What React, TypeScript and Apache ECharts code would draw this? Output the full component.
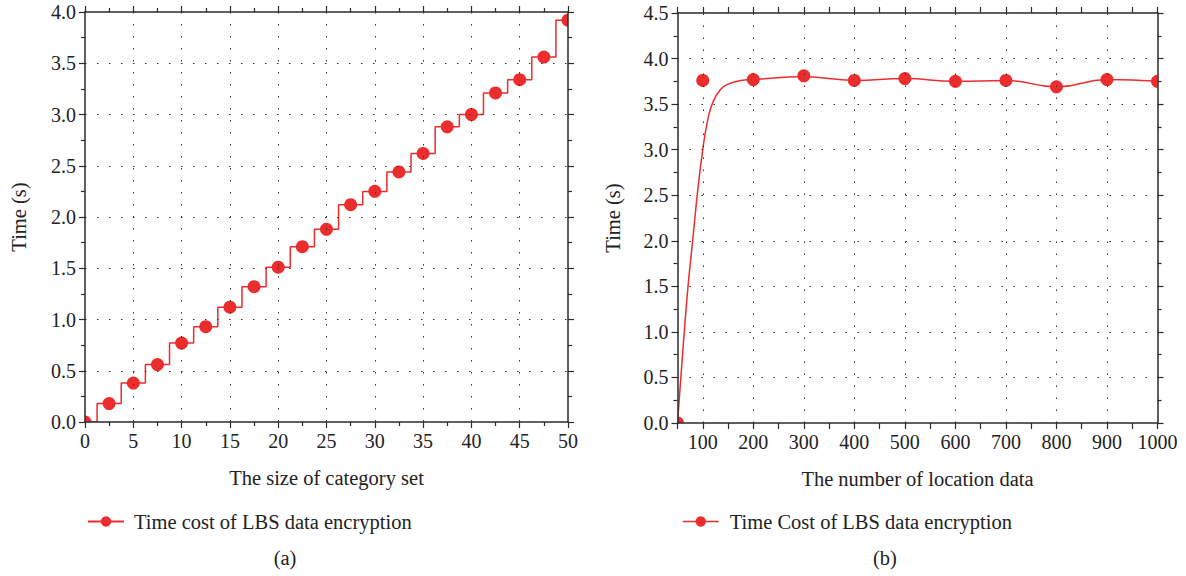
import React, { useEffect, useRef } from "react";
import * as echarts from "echarts";

// ---- Data (a) ----
const categorySizes = [0, 2.5, 5, 7.5, 10, 12.5, 15, 17.5, 20, 22.5, 25, 27.5, 30, 32.5, 35, 37.5, 40, 42.5, 45, 47.5, 50];
const encTimeA = [0, 0.18, 0.38, 0.56, 0.77, 0.93, 1.12, 1.32, 1.51, 1.71, 1.88, 2.12, 2.25, 2.44, 2.62, 2.88, 3.0, 3.21, 3.34, 3.56, 3.92];

// ---- Data (b) ----
const locationCounts = [50, 100, 200, 300, 400, 500, 600, 700, 800, 900, 1000];
const encTimeB = [0, 3.76, 3.77, 3.81, 3.76, 3.78, 3.75, 3.76, 3.69, 3.77, 3.75];
const fitX = [50, 60, 70, 80, 90, 100, 110, 120, 135, 150, 175, 200, 300, 400, 500, 600, 700, 800, 900, 1000];
const fitY = [0, 0.75, 1.45, 2.0, 2.55, 3.0, 3.33, 3.52, 3.66, 3.72, 3.76, 3.77, 3.8, 3.76, 3.78, 3.75, 3.76, 3.69, 3.77, 3.75];
const gridLinesB = [100, 200, 300, 400, 500, 600, 700, 800, 900];

const nameA = "Time cost of LBS data encryption";
const nameB = "Time Cost of LBS data encryption";

const RED = "#ec2d2d";
const AX = "#2b2b2b";
const FONT = "Liberation Serif";

const gridA = { left: 85, top: 12, width: 483, height: 410 };
const gridB = { left: 677.5, top: 13, width: 480, height: 410 };

function frameAxisCommon(extra: any) {
  return {
    z: 10,
    axisLine: { show: true, onZero: false, lineStyle: { color: AX, width: 1.5 } },
    axisTick: { show: true, inside: false, length: 6, lineStyle: { color: AX, width: 1.2 } },
    ...extra,
  };
}

const gridDots = { color: "#333", width: 1, type: [1.5, 10.5] as any };

export default function App() {
  const ref = useRef<HTMLDivElement>(null);
  useEffect(() => {
    if (!ref.current) return;
    const chart = echarts.init(ref.current, undefined, { renderer: "svg" });
    const tickStyle = { fontFamily: FONT, fontSize: 20, color: "#222" };
    const labelStyle = { fontFamily: FONT, fontSize: 20.5, color: "#222" };
    const minorTick = { show: true, splitNumber: 2, length: 4, lineStyle: { color: AX, width: 1.2 } };

    const clipRects = (g: any) => {
      const r = g.left + g.width;
      const b = g.top + g.height;
      const s = { fill: "#fff" };
      return [
        { type: "rect", z: 5, shape: { x: g.left - 12, y: g.top - 12, width: 12, height: g.height + 24 }, style: s },
        { type: "rect", z: 5, shape: { x: r, y: g.top - 12, width: 12, height: g.height + 24 }, style: s },
        { type: "rect", z: 5, shape: { x: g.left - 12, y: g.top - 12, width: g.width + 24, height: 12 }, style: s },
        { type: "rect", z: 5, shape: { x: g.left - 12, y: b, width: g.width + 24, height: 12 }, style: s },
      ];
    };

    chart.setOption({
      animation: false,
      backgroundColor: "#fff",
      textStyle: { fontFamily: FONT },
      grid: [
        { ...gridA, containLabel: false },
        { ...gridB, containLabel: false },
      ],
      xAxis: [
        frameAxisCommon({
          type: "value", gridIndex: 0, position: "bottom", min: 0, max: 50, interval: 5,
          minorTick,
          axisLabel: { ...tickStyle, margin: 9 },
          splitLine: { show: true, showMinLine: false, showMaxLine: false, lineStyle: gridDots },
          name: "The size of category set", nameLocation: "middle", nameGap: 45,
          nameTextStyle: { ...labelStyle },
        }),
        frameAxisCommon({
          type: "value", gridIndex: 0, position: "top", min: 0, max: 50, interval: 5,
          minorTick, axisLabel: { show: false }, splitLine: { show: false },
        }),
        frameAxisCommon({
          type: "value", gridIndex: 1, position: "bottom", min: 50, max: 1000, interval: 50,
          axisLabel: {
            ...tickStyle, margin: 9,
            formatter: (v: number) => (v % 100 === 0 ? String(v) : ""),
          },
          splitLine: { show: false },
          name: "The number of location data", nameLocation: "middle", nameGap: 45,
          nameTextStyle: { ...labelStyle },
        }),
        frameAxisCommon({
          type: "value", gridIndex: 1, position: "top", min: 50, max: 1000, interval: 50,
          axisLabel: { show: false }, splitLine: { show: false },
        }),
      ],
      yAxis: [
        frameAxisCommon({
          type: "value", gridIndex: 0, position: "left", min: 0, max: 4, interval: 0.5,
          minorTick,
          axisLabel: { ...tickStyle, margin: 9, formatter: (v: number) => v.toFixed(1) },
          splitLine: { show: true, showMinLine: false, showMaxLine: false, lineStyle: gridDots },
          name: "Time (s)", nameLocation: "middle", nameGap: 56,
          nameTextStyle: { ...labelStyle },
        }),
        frameAxisCommon({
          type: "value", gridIndex: 0, position: "right", min: 0, max: 4, interval: 0.5,
          minorTick, axisLabel: { show: false }, splitLine: { show: false },
        }),
        frameAxisCommon({
          type: "value", gridIndex: 1, position: "left", min: 0, max: 4.5, interval: 0.5,
          minorTick,
          axisLabel: { ...tickStyle, margin: 9, formatter: (v: number) => v.toFixed(1) },
          splitLine: { show: true, showMinLine: false, showMaxLine: false, lineStyle: gridDots },
          name: "Time (s)", nameLocation: "middle", nameGap: 54,
          nameTextStyle: { ...labelStyle },
        }),
        frameAxisCommon({
          type: "value", gridIndex: 1, position: "right", min: 0, max: 4.5, interval: 0.5,
          minorTick, axisLabel: { show: false }, splitLine: { show: false },
        }),
      ],
      legend: [
        {
          data: [nameA], left: 82, top: 506, itemWidth: 36, itemHeight: 13,
          textStyle: { ...labelStyle, padding: [0, 0, 0, 5] },
        },
        {
          data: [nameB], left: 677, top: 506, itemWidth: 36, itemHeight: 13,
          lineStyle: { opacity: 1, width: 1.5, color: RED },
          textStyle: { ...labelStyle, padding: [0, 0, 0, 6] },
        },
      ],
      graphic: [
        ...clipRects(gridA),
        ...clipRects(gridB),
        { type: "text", z: 20, x: 285, y: 558, style: { text: "(a)", font: `20.5px ${FONT}`, fill: "#222", textAlign: "center", textVerticalAlign: "middle" } },
        { type: "text", z: 20, x: 885, y: 558, style: { text: "(b)", font: `20.5px ${FONT}`, fill: "#222", textAlign: "center", textVerticalAlign: "middle" } },
      ],
      series: [
        {
          name: nameA, type: "line", xAxisIndex: 0, yAxisIndex: 0, step: "middle",
          data: categorySizes.map((x, i) => [x, encTimeA[i]]),
          symbol: "circle", symbolSize: 13, clip: false,
          itemStyle: { color: RED },
          lineStyle: { color: RED, width: 1.5 },
        },
        {
          name: "fit", type: "line", xAxisIndex: 2, yAxisIndex: 2, smooth: 0.5,
          data: fitX.map((x, i) => [x, fitY[i]]),
          showSymbol: false, clip: false,
          lineStyle: { color: RED, width: 1.5 },
          markLine: {
            silent: true, symbol: "none", label: { show: false },
            lineStyle: gridDots,
            data: gridLinesB.map((v) => ({ xAxis: v })),
          },
        },
        {
          name: nameB, type: "line", xAxisIndex: 2, yAxisIndex: 2,
          data: locationCounts.map((x, i) => [x, encTimeB[i]]),
          symbol: "circle", symbolSize: 13, clip: false,
          itemStyle: { color: RED },
          lineStyle: { color: RED, width: 1.5, opacity: 0 },
        },
      ],
    });
    return () => chart.dispose();
  }, []);
  return <div ref={ref} style={{ position: "fixed", left: 0, top: 0, width: 1186, height: 576 }} />;
}
